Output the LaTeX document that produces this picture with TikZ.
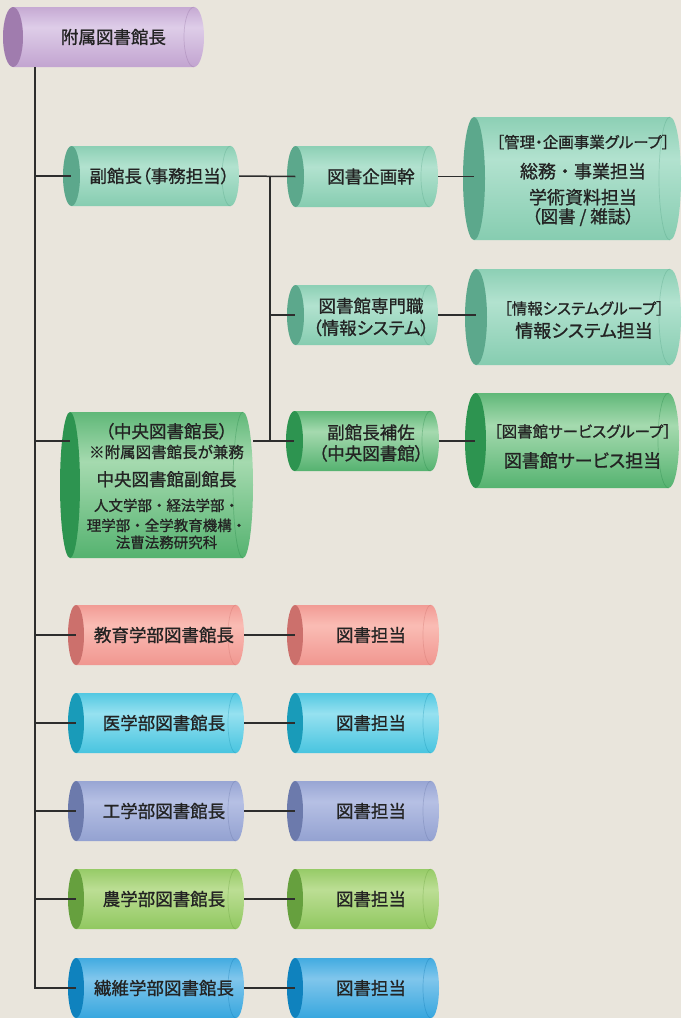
\documentclass[tikz,border=0pt]{standalone}
\usepackage{fontspec}
\setmainfont{Noto Sans CJK JP}[RawFeature=+palt, FakeBold=1.0]
\usetikzlibrary{calc}
\definecolor{bgc}{RGB}{233,229,220}
\definecolor{txt}{RGB}{35,35,35}
\definecolor{lnc}{RGB}{45,45,45}
% purple
\definecolor{purD}{RGB}{140,105,155}\definecolor{purM}{RGB}{188,155,203}\definecolor{purL}{RGB}{222,205,232}\definecolor{purF}{RGB}{160,124,174}
% mint
\definecolor{mintD}{RGB}{78,158,128}\definecolor{mintM}{RGB}{125,200,170}\definecolor{mintL}{RGB}{178,226,207}\definecolor{mintF}{RGB}{92,168,140}
% green
\definecolor{grnD}{RGB}{30,128,65}\definecolor{grnM}{RGB}{68,170,98}\definecolor{grnL}{RGB}{165,218,175}\definecolor{grnF}{RGB}{45,148,80}
% pink
\definecolor{pinkD}{RGB}{200,105,100}\definecolor{pinkM}{RGB}{238,142,136}\definecolor{pinkL}{RGB}{250,188,180}\definecolor{pinkF}{RGB}{204,112,108}
% cyan
\definecolor{cyanD}{RGB}{15,138,172}\definecolor{cyanM}{RGB}{55,190,220}\definecolor{cyanL}{RGB}{150,225,240}\definecolor{cyanF}{RGB}{25,155,185}
% periwinkle
\definecolor{periD}{RGB}{95,110,160}\definecolor{periM}{RGB}{140,155,205}\definecolor{periL}{RGB}{182,192,228}\definecolor{periF}{RGB}{108,122,172}
% light green
\definecolor{lgrnD}{RGB}{95,153,55}\definecolor{lgrnM}{RGB}{135,195,85}\definecolor{lgrnL}{RGB}{188,222,148}\definecolor{lgrnF}{RGB}{102,160,62}
% blue
\definecolor{bluD}{RGB}{10,113,172}\definecolor{bluM}{RGB}{40,160,220}\definecolor{bluL}{RGB}{128,198,236}\definecolor{bluF}{RGB}{15,130,190}
\newcommand\mkshade[1]{%
  \colorlet{#1T}{#1M!80!#1D}%
  \pgfdeclareverticalshading{cyl#1}{100bp}{color(0bp)=(#1D); color(18bp)=(#1M); color(58bp)=(#1L); color(82bp)=(#1M); color(100bp)=(#1T)}}
\mkshade{pur}\mkshade{mint}\mkshade{grn}\mkshade{pink}\mkshade{cyan}\mkshade{peri}\mkshade{lgrn}\mkshade{blu}
\newcommand\fa{\fontsize{17.5}{20}\selectfont}
\newcommand\fb{\fontsize{15.5}{20}\selectfont}
\newcommand\fc{\fontsize{14.5}{19}\selectfont\addfontfeature{RawFeature=-palt}}
\newcommand\fd{\fontsize{18}{20}\selectfont}
% #1 name, #2 x1, #3 y1, #4 x2, #5 y2, #6 colour, #7 rx, #8 text, #9 node options
\newcommand{\cyl}[9]{%
  \pgfmathsetmacro\cA{#2+#7}%
  \pgfmathsetmacro\cB{#4-#7}%
  \pgfmathsetmacro\cM{(#3+#5)/2}%
  \pgfmathsetmacro\cR{(#5-#3)/2}%
  \pgfmathsetmacro\cW{#4-#2-2*#7}%
  \pgfmathsetmacro\cX{(#2+2*#7+#4)/2}%
  \pgfmathsetmacro\cH{#5-#3}%
  \shade[shading=cyl#6] (\cA,#3) -- (\cB,#3) arc[start angle=90,end angle=-90,x radius=#7,y radius=-\cR] -- (\cA,#5) -- cycle;
  \draw[#6D,opacity=.3,line width=.7pt] (\cB,#3) arc[start angle=90,end angle=270,x radius=#7,y radius=-\cR];
  \fill[#6F] (\cA,\cM) ellipse[x radius=#7, y radius=\cR];
  \node[lbl, minimum width=\cW pt, minimum height=\cH pt, #9] (#1) at (\cX,\cM) {#8};
}
\tikzset{
  lbl/.style={font=\fa, text=txt, align=center, inner sep=0pt},
  conn/.style={draw=lnc, line width=1.5pt},
}
\begin{document}
\begin{tikzpicture}[x=1pt,y=-1pt]
\useasboundingbox (0,0) rectangle (681,1018);
\fill[bgc] (0,0) rectangle (681,1018);

\cyl{A}{3}{7}{204}{67}{pur}{10}{附属図書館長}{}
\cyl{B}{63}{146}{239}{206}{mint}{8.5}{副館長（事務担当）}{}
\cyl{C}{287}{146}{438}{207}{mint}{8.5}{図書企画幹}{}
\cyl{E}{463}{117}{681}{240}{mint}{11}{{\fb ［管理・企画事業グループ］}\\[10pt]{\fd\addfontfeature{RawFeature=-palt}総務・事業担当}\\[6pt]{\fd 学術資料担当}\\[-1pt]（図書 / 雑誌）}{yshift=-2pt}
\cyl{D}{287}{285}{438}{345}{mint}{8.5}{図書館専門職\\[2pt]（情報システム）}{yshift=-2pt}
\cyl{F}{465}{269}{681}{365}{mint}{11}{{\fb ［情報システムグループ］}\\[3pt]{\fd 情報システム担当}}{yshift=-3pt}
\cyl{G}{60}{412}{253}{558}{grn}{10}{（中央図書館長）\\{\fb ※附属図書館長が兼務}\\[8pt]中央図書館副館長\\[5pt]{\fc 人文学部・経法学部・}\\{\fc 理学部・全学教育機構・}\\[-3pt]{\fc 法曹法務研究科}}{yshift=-1pt}
\cyl{H}{286}{411}{439}{471}{grn}{8.5}{副館長補佐\\[1pt]（中央図書館）}{yshift=-2pt}
\cyl{I}{465}{393}{679}{488}{grn}{10.5}{{\fb ［図書館サービスグループ］}\\[10pt]{\fd 図書館サービス担当}}{yshift=-6pt}

\cyl{K1}{68}{605}{244}{665}{pink}{8}{教育学部図書館長}{}
\cyl{J1}{287}{605}{439}{665}{pink}{8}{図書担当}{}
\cyl{K2}{68}{693}{244}{753}{cyan}{8}{医学部図書館長}{}
\cyl{J2}{287}{693}{439}{753}{cyan}{8}{図書担当}{}
\cyl{K3}{68}{781}{244}{841}{peri}{8}{工学部図書館長}{}
\cyl{J3}{287}{781}{439}{841}{peri}{8}{図書担当}{}
\cyl{K4}{68}{869}{244}{929}{lgrn}{8}{農学部図書館長}{}
\cyl{J4}{287}{869}{439}{929}{lgrn}{8}{図書担当}{}
\cyl{K5}{68}{958}{244}{1018}{blu}{8}{繊維学部図書館長}{}
\cyl{J5}{287}{958}{439}{1018}{blu}{8}{図書担当}{}

% trunk
\coordinate (tr) at (35,67);
\coordinate (sv) at (270,0);
\coordinate (hy) at (0,441);
\coordinate (dy) at (0,315);
\draw[conn] (tr |- A.south) -- (tr |- K5.west) -- ($(K5.west)+(-8,0)$);
\draw[conn] (tr |- B.west) -- ($(B.west)+(-8.5,0)$);
\draw[conn] (tr |- hy) -- ($(G.west |- hy)+(-10,0)$);
\foreach \k in {K1,K2,K3,K4}{
  \draw[conn] (tr |- \k.west) -- ($(\k.west)+(-8,0)$);
}
% second level
\draw[conn] (B.east) -- ($(C.west)+(-8.5,0)$);
\draw[conn] (sv |- B.east) -- (sv |- hy);
\draw[conn] (sv |- dy) -- ($(D.west |- dy)+(-8.5,0)$);
\draw[conn] (G.east |- hy) -- ($(H.west |- hy)+(-8.5,0)$);
% groups
\draw[conn] (C.east) -- ($(C.east -| E.west)+(-11,0)$);
\draw[conn] (D.east |- dy) -- ($(F.west |- dy)+(-11,0)$);
\draw[conn] (H.east |- hy) -- ($(I.west |- hy)+(-10.5,0)$);
% rows
\foreach \i in {1,...,5}{
  \draw[conn] (K\i.east) -- ($(J\i.west)+(-8,0)$);
}
\end{tikzpicture}
\end{document}
